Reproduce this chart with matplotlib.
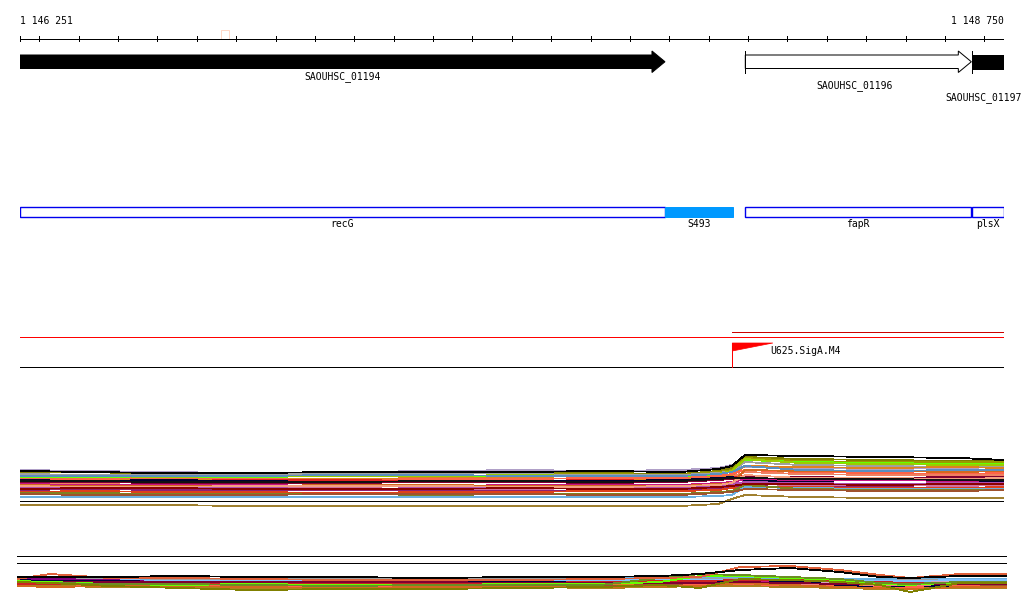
import matplotlib
matplotlib.use("Agg")
import matplotlib.pyplot as plt
from matplotlib.patches import Polygon, Rectangle
from matplotlib.transforms import offset_copy

# ---------------- data ----------------
view_start, view_end = 1146251, 1148750
ruler_ticks = list(range(1146300, 1148800, 100))
ruler_labels = ["1 146 251", "1 148 750"]

gene_names = ["SAOUHSC_01194", "SAOUHSC_01196", "SAOUHSC_01197"]
gene_starts = [1146251, 1148093, 1148669]
gene_ends = [1147889, 1148667, 1148750]
gene_fill = ["black", "white", "black"]
gene_arrow = [True, True, False]

feat_names = ["recG", "S493", "fapR", "plsX"]
feat_starts = [1146251, 1147889, 1148093, 1148670]
feat_ends = [1147889, 1148062, 1148666, 1148750]
feat_filled = [False, True, False, False]

tss_name = "U625.SigA.M4"
tss_pos = 1148060
tss_flag_end = 1148163
red_line2_start = 1148059

highlight = (1146761, 1146782)

# top expression bundle
top_x = [1146251, 1146429, 1146607, 1146835, 1147064, 1147318, 1147521, 1147724,
         1147927, 1148024, 1148059, 1148092, 1148232, 1148435, 1148638, 1148750]
top_series = {
    "#b0a0c8": [12.0, 11.9, 11.8, 11.7, 11.8, 11.9, 12.0, 11.9, 12.0, 12.2, 12.5, 12.3, 12.2, 12.1, 12.2, 12.3],
    "#808000": [11.7, 11.8, 11.6, 11.6, 11.6, 11.8, 11.7, 11.7, 11.6, 11.9, 12.2, 13.3, 13.1, 13.0, 12.9, 12.9],
    "#9a9a00": [11.5, 11.5, 11.4, 11.5, 11.6, 11.6, 11.7, 11.6, 11.5, 11.8, 12.0, 13.2, 12.9, 12.8, 12.8, 12.8],
    "#66ff00": [11.2, 11.2, 11.2, 11.3, 11.4, 11.3, 11.4, 11.4, 11.3, 11.6, 11.8, 13.0, 12.8, 12.7, 12.6, 12.6],
    "#a0a0a0": [11.6, 11.5, 11.5, 11.6, 11.6, 11.7, 11.6, 11.5, 11.5, 11.7, 11.9, 12.8, 12.5, 12.4, 12.3, 12.4],
    "#e08020": [11.0, 11.0, 11.1, 11.1, 11.1, 11.2, 11.2, 11.1, 11.1, 11.3, 11.5, 12.4, 12.3, 12.2, 12.3, 12.2],
    "#ff6347": [11.1, 11.1, 11.2, 11.1, 11.0, 11.1, 11.1, 11.2, 11.2, 11.4, 11.6, 12.0, 11.8, 11.7, 11.6, 11.7],
    "#f08060": [10.7, 10.7, 10.8, 10.8, 10.9, 10.9, 10.9, 10.8, 10.9, 11.1, 11.3, 11.8, 11.6, 11.5, 11.5, 11.5],
    "#dd2222": [10.9, 10.8, 10.9, 11.0, 11.0, 10.9, 10.9, 11.0, 10.9, 11.1, 11.3, 11.4, 11.3, 11.2, 11.2, 11.3],
    "#800030": [10.8, 10.8, 10.7, 10.7, 10.7, 10.8, 10.8, 10.7, 10.8, 11.0, 11.1, 11.4, 11.3, 11.2, 11.3, 11.3],
    "#000033": [11.0, 10.9, 11.0, 10.9, 10.8, 10.9, 10.9, 10.9, 11.0, 11.2, 11.3, 10.9, 10.9, 11.0, 10.9, 10.9],
    "#c71585": [10.6, 10.5, 10.5, 10.5, 10.4, 10.4, 10.5, 10.5, 10.5, 10.7, 10.8, 11.1, 11.0, 11.0, 10.9, 11.0],
    "#d2691e": [10.5, 10.4, 10.4, 10.4, 10.5, 10.5, 10.4, 10.4, 10.4, 10.6, 10.7, 12.0, 11.9, 11.9, 11.8, 11.9],
    "#d070a0": [10.2, 10.1, 10.1, 10.2, 10.2, 10.1, 10.1, 10.2, 10.2, 10.4, 10.5, 10.6, 10.5, 10.5, 10.4, 10.5],
    "#902070": [10.0, 10.1, 10.0, 10.0, 10.0, 10.0, 9.9, 10.0, 10.0, 10.1, 10.3, 10.4, 10.3, 10.3, 10.2, 10.3],
    "#e0401a": [9.8, 9.9, 9.8, 9.8, 9.7, 9.8, 9.8, 9.9, 9.9, 10.0, 10.2, 10.3, 10.3, 10.2, 10.2, 10.3],
    "#b050b0": [10.3, 10.2, 10.3, 10.2, 10.1, 10.2, 10.2, 10.1, 10.2, 10.4, 10.6, 10.8, 10.7, 10.6, 10.7, 10.7],
    "#6ab0e0": [9.3, 9.3, 9.3, 9.3, 9.3, 9.3, 9.3, 9.3, 9.3, 9.4, 9.5, 10.3, 10.2, 10.1, 10.1, 10.1],
    "#808020": [9.7, 9.7, 9.6, 9.6, 9.6, 9.5, 9.6, 9.6, 9.6, 9.8, 9.9, 10.5, 10.1, 10.0, 10.0, 10.0],
    "#a0522d": [9.6, 9.5, 9.5, 9.5, 9.6, 9.6, 9.6, 9.5, 9.5, 9.7, 9.8, 10.1, 10.0, 9.9, 9.9, 10.0],
    "#a08030": [8.5, 8.5, 8.5, 8.4, 8.4, 8.4, 8.4, 8.4, 8.4, 8.6, 9.1, 9.5, 9.3, 9.2, 9.2, 9.2],
    "#99cc00": [11.4, 11.4, 11.3, 11.4, 11.4, 11.4, 11.5, 11.4, 11.4, 11.6, 11.9, 13.1, 12.7, 12.6, 12.5, 12.5],
    "#5a8fc0": [11.4, 11.4, 11.4, 11.4, 11.5, 11.5, 11.4, 11.4, 11.4, 11.6, 11.8, 12.4, 12.0, 11.9, 12.0, 12.0],
    "#f4a080": [10.4, 10.3, 10.3, 10.4, 10.4, 10.4, 10.3, 10.3, 10.4, 10.5, 10.7, 11.5, 11.2, 11.2, 11.1, 11.2],
    "#8b0000": [10.1, 10.2, 10.2, 10.1, 10.1, 10.1, 10.2, 10.1, 10.1, 10.3, 10.4, 10.6, 10.6, 10.5, 10.6, 10.6],
    "#111111": [10.9, 10.9, 10.8, 10.8, 10.8, 10.9, 10.9, 10.8, 10.9, 11.1, 11.2, 11.2, 11.1, 11.1, 11.0, 11.0],
    "#000000": [11.9, 11.8, 11.7, 11.7, 11.8, 11.8, 11.8, 11.9, 11.8, 12.1, 12.4, 13.5, 13.4, 13.3, 13.2, 13.0],
    "#050505": [8.9, 8.9, 8.9, 8.9, 8.9, 8.9, 8.9, 8.9, 8.9, 8.9, 8.9, 8.9, 8.9, 8.9, 8.9, 8.9],
}

# bottom expression bundle
bot_x = [1146251, 1146334, 1146486, 1146662, 1146839, 1147066, 1147294, 1147521, 1147723,
         1147874, 1147975, 1148076, 1148202, 1148328, 1148429, 1148505, 1148631, 1148750]
bot_series = {
    "#6ab0e0": [4.4, 4.4, 4.2, 4.2, 4.0, 4.0, 4.0, 4.4, 4.4, 4.4, 4.6, 4.4, 4.2, 4.2, 4.2, 4.2, 4.2, 4.2],
    "#d8a0c0": [4.0, 4.0, 4.0, 3.8, 3.8, 3.6, 3.8, 3.8, 3.8, 4.0, 4.0, 3.8, 3.8, 3.6, 3.6, 3.6, 3.6, 3.6],
    "#a0a0a0": [4.2, 4.4, 4.4, 4.2, 4.2, 4.2, 4.2, 4.2, 4.2, 4.2, 4.2, 4.2, 4.0, 4.0, 3.8, 4.0, 4.0, 4.0],
    "#80c0ff": [4.0, 4.0, 4.0, 3.8, 4.0, 4.0, 4.0, 4.0, 4.0, 4.0, 4.0, 4.0, 3.8, 3.8, 3.8, 3.8, 4.0, 4.0],
    "#c71585": [3.8, 4.0, 3.8, 3.6, 3.6, 3.4, 3.4, 3.2, 3.2, 3.4, 3.6, 4.0, 3.4, 3.2, 3.0, 2.8, 3.2, 3.0],
    "#800080": [4.2, 4.2, 4.0, 3.4, 3.4, 3.2, 3.2, 3.2, 3.2, 3.2, 3.2, 3.4, 3.4, 3.0, 2.8, 2.6, 2.8, 2.8],
    "#e08020": [3.4, 3.2, 3.2, 3.0, 3.0, 2.8, 2.8, 3.0, 3.0, 3.2, 3.6, 3.6, 3.2, 3.0, 2.8, 2.8, 3.0, 3.0],
    "#a0522d": [3.2, 3.0, 3.0, 3.2, 3.0, 3.0, 3.0, 3.0, 2.8, 3.0, 3.2, 3.2, 3.0, 2.8, 2.6, 2.6, 2.8, 2.8],
    "#ff6347": [3.0, 2.8, 3.0, 2.8, 2.8, 2.6, 2.8, 2.8, 2.6, 2.8, 3.0, 3.0, 2.8, 2.8, 2.6, 2.6, 2.8, 2.6],
    "#000040": [4.0, 3.8, 3.8, 3.6, 3.4, 3.6, 3.6, 3.6, 3.6, 3.4, 3.6, 4.0, 3.8, 3.0, 2.4, 3.0, 2.6, 2.6],
    "#b08020": [2.8, 2.8, 2.6, 2.6, 2.4, 2.4, 2.4, 2.6, 2.4, 2.6, 2.8, 2.8, 2.6, 2.4, 2.2, 2.2, 2.4, 2.4],
    "#f08080": [3.4, 3.4, 3.4, 3.2, 3.2, 3.2, 3.2, 3.2, 3.4, 3.4, 3.4, 3.4, 3.2, 3.2, 3.0, 3.0, 3.2, 3.2],
    "#cc2222": [3.2, 3.2, 3.4, 3.4, 3.4, 3.4, 3.4, 3.4, 3.6, 3.8, 3.8, 4.0, 4.0, 3.8, 3.6, 3.4, 3.4, 3.4],
    "#d2691e": [2.8, 2.6, 2.8, 2.8, 2.6, 2.4, 2.6, 2.6, 2.6, 2.8, 2.8, 3.4, 3.0, 2.6, 2.4, 2.2, 2.6, 2.6],
    "#800030": [3.6, 3.6, 3.6, 3.6, 3.6, 3.6, 3.6, 3.4, 3.4, 3.4, 3.4, 3.6, 3.4, 3.2, 3.2, 3.2, 3.2, 3.2],
    "#66ff00": [3.8, 3.6, 3.2, 3.0, 3.2, 3.0, 3.0, 3.2, 3.2, 3.6, 4.8, 4.8, 4.4, 4.0, 3.2, 3.0, 3.6, 3.6],
    "#6b8e23": [3.6, 3.4, 3.2, 3.2, 3.0, 2.8, 3.0, 3.0, 3.0, 4.4, 5.2, 5.0, 4.6, 4.2, 3.4, 3.2, 3.6, 3.6],
    "#808000": [3.6, 3.4, 2.8, 2.4, 2.0, 2.2, 2.2, 2.4, 2.6, 3.0, 2.4, 4.2, 4.0, 3.6, 3.0, 1.6, 3.4, 3.4],
    "#e0603a": [4.2, 5.2, 4.4, 4.4, 4.2, 4.0, 4.0, 4.0, 4.2, 4.4, 4.6, 6.6, 6.8, 6.0, 5.0, 4.4, 5.2, 5.2],
    "#000000": [4.6, 4.6, 4.6, 4.8, 4.6, 4.6, 4.4, 4.6, 4.6, 4.8, 5.2, 6.0, 6.4, 5.6, 4.6, 4.4, 4.8, 4.8],
}

# ---------------- layout / style ----------------
W, H = 1024, 611
FONT = dict(family="DejaVu Sans Mono", fontsize=7.0, color="black")
LW = 0.72          # one pixel at 100 dpi
LW_DATA = 0.6

fig = plt.figure(figsize=(W / 100, H / 100), dpi=100)
fig.patch.set_facecolor("white")

# main annotation axes (y in pixel rows)
ax = fig.add_axes([20 / W, 0, 984 / W, 1])
ax.set_xlim(view_start, view_end)
ax.set_ylim(H, 0)
ax.axis("off")

# ruler
ax.plot([view_start, view_end], [38.5, 38.5], color="black", lw=LW, solid_capstyle="butt")
for t in [view_start] + ruler_ticks + [view_end]:
    ax.plot([t, t], [36, 41], color="black", lw=LW)
ax.text(view_start, 20.5, ruler_labels[0], ha="left", va="center", **FONT)
ax.text(view_end, 20.5, ruler_labels[1], ha="right", va="center", **FONT)
ax.add_patch(Rectangle((highlight[0], 29.5), highlight[1] - highlight[0], 9.5,
                       fill=False, edgecolor="#ffd9c8", lw=LW))

# genes
head_len = 33
body_top, body_bot, head_top, head_bot = 55, 68.5, 51, 72.5
mid = (body_top + body_bot) / 2
label_y = [76.3, 85.3, 97.7]
label_dx = [0, -3, -3]
for name, s, e, fc, arr, ly, dx in zip(gene_names, gene_starts, gene_ends, gene_fill,
                                        gene_arrow, label_y, label_dx):
    if arr:
        hs = e - head_len
        pts = [(s, body_top), (hs, body_top), (hs, head_top), (e, mid),
               (hs, head_bot), (hs, body_bot), (s, body_bot)]
    else:
        pts = [(s, body_top), (e, body_top), (e, body_bot), (s, body_bot)]
    ax.add_patch(Polygon(pts, closed=True, facecolor=fc, edgecolor="black", lw=LW))
    if fc == "white" or not arr:
        if s > view_start:
            ax.plot([s, s], [head_top, head_bot], color="black", lw=LW)
    tr = offset_copy(ax.transData, fig=fig, x=dx, y=0, units="points")
    ax.text((s + e) / 2, ly, name, ha="center", va="center", clip_on=False,
            transform=tr, **FONT)

# blue features
for name, s, e, filled in zip(feat_names, feat_starts, feat_ends, feat_filled):
    if filled:
        ax.add_patch(Rectangle((s, 207.3), e - s, 10, facecolor="#0099ff", edgecolor="#0099ff", lw=LW))
    else:
        ax.add_patch(Rectangle((s, 207.3), e - s, 10, facecolor="white", edgecolor="#0000ee", lw=1.0))
    ax.text((s + e) / 2, 224.3, name, ha="center", va="center", **FONT)

# TSS track
ax.plot([view_start, view_end], [336.5, 336.5], color="#ff0000", lw=LW)
ax.plot([red_line2_start, view_end], [331.5, 331.5], color="#cc0000", lw=LW)
ax.plot([view_start, view_end], [366.5, 366.5], color="black", lw=LW)
ax.plot([tss_pos, tss_pos], [343, 366.5], color="#ff0000", lw=LW)
ax.add_patch(Polygon([(tss_pos, 343), (tss_flag_end, 343), (tss_pos, 351)], closed=True,
                     facecolor="#ff0000", edgecolor="#ff0000", lw=0.5))
ax.text(tss_flag_end - 6, 350.7, tss_name, ha="left", va="center", **FONT)

# top bundle
ax1 = fig.add_axes([20 / W, 1 - 510 / H, 984 / W, 70 / H])
ax1.set_xlim(view_start, view_end)
ax1.set_ylim(8, 15)
ax1.axis("off")
for col, vals in top_series.items():
    ax1.plot(top_x, vals, color=col, lw=LW_DATA, antialiased=False)

# bottom bundle
ax2 = fig.add_axes([17 / W, 1 - 600 / H, 990 / W, 45 / H])
ax2.set_xlim(view_start, view_end)
ax2.set_ylim(0, 9)
ax2.axis("off")
ax2.axhline(9 - (555.5 - 555) / 5, color="black", lw=LW)
ax2.axhline(9 - (562.5 - 555) / 5, color="black", lw=LW)
for col, vals in bot_series.items():
    ax2.plot(bot_x, vals, color=col, lw=LW_DATA, antialiased=False)

fig.savefig("out.png", dpi=100, facecolor="white")
